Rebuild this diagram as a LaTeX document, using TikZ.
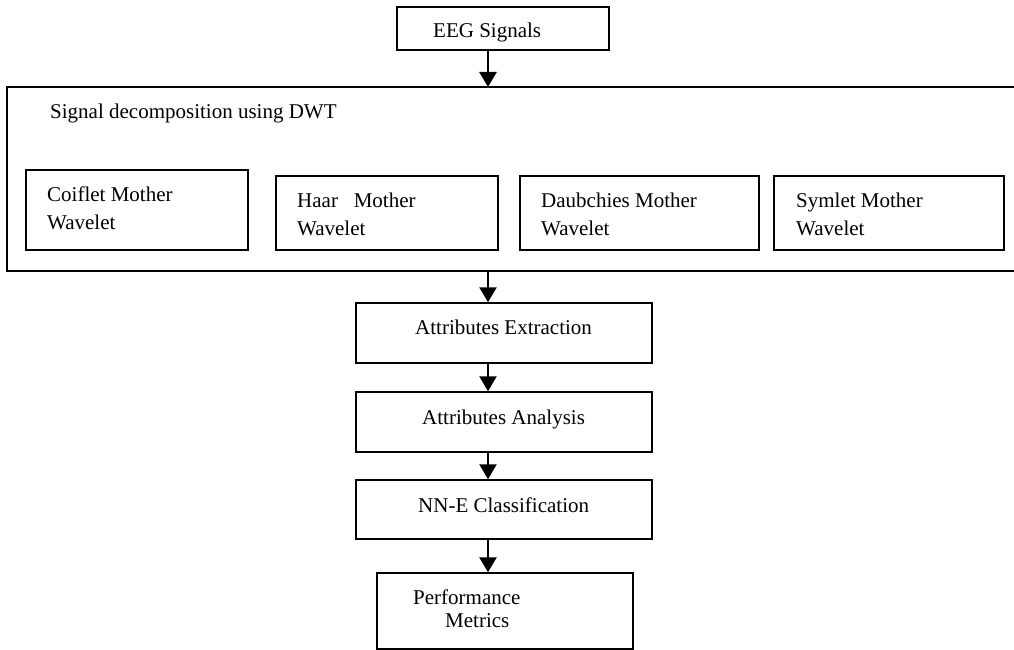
\documentclass[tikz,border=0pt]{standalone}
\usepackage{fontspec}
\setmainfont{Liberation Serif}
\usetikzlibrary{arrows.meta}
\begin{document}
\begin{tikzpicture}[x=1pt,y=-1pt,
  box/.style={draw=black,line width=1.5pt,inner sep=0pt},
  lbl/.style={anchor=base west,inner sep=0pt,font=\fontsize{21}{26}\selectfont},
  flow/.style={line width=2.6pt,-{Triangle[length=15pt,width=17pt]}}]
\useasboundingbox (0,0) rectangle (1014,650);
% boxes
\node[box,minimum width=212pt,minimum height=43pt] (eeg) at (503,28.5) {};
\draw[line width=1.5pt] (1016,87) -- (7,87) -- (7,271) -- (1016,271);
\coordinate (bigN) at (500,87);
\coordinate (bigS) at (500,271);
\node[box,minimum width=222pt,minimum height=80pt] (coif) at (137,210) {};
\node[box,minimum width=222pt,minimum height=74pt] (haar) at (387,213) {};
\node[box,minimum width=239pt,minimum height=74pt] (daub) at (639.5,213) {};
\node[box,minimum width=230pt,minimum height=74pt] (sym) at (889,213) {};
\node[box,minimum width=296pt,minimum height=60pt] (ext) at (504,333) {};
\node[box,minimum width=296pt,minimum height=60pt] (ana) at (504,422) {};
\node[box,minimum width=296pt,minimum height=59pt] (nne) at (504,509.5) {};
\node[box,minimum width=256pt,minimum height=76pt] (perf) at (505,611) {};
% labels
\node[lbl] (teeg) at (433,38) {EEG Signals};
\node[lbl] (tdwt) at (50,118) {Signal decomposition using DWT};
\node[lbl] (tc1) at (47,201) {Coiflet Mother};
\node[lbl] (tc2) at (47,229) {Wavelet};
\node[lbl] (th1) at (297,207) {Haar\ \ \ Mother};
\node[lbl] (th2) at (297,235) {Wavelet};
\node[lbl] (td1) at (541,207) {Daubchies Mother};
\node[lbl] (td2) at (541,235) {Wavelet};
\node[lbl] (ts1) at (796,207) {Symlet Mother};
\node[lbl] (ts2) at (796,235) {Wavelet};
\node[lbl] (text) at (415,334) {Attributes Extraction};
\node[lbl] (tana) at (422,424) {Attributes Analysis};
\node[lbl] (tnne) at (418,512) {NN-E Classification};
\node[lbl] (tp1) at (413,604) {Performance};
\node[lbl] (tp2) at (445,627) {Metrics};
% arrows
\coordinate (ax) at (488,0);
\draw[flow] (eeg.south -| ax) -- (bigN -| ax);
\draw[flow] (bigS -| ax) -- (ext.north -| ax);
\draw[flow] (ext.south -| ax) -- (ana.north -| ax);
\draw[flow] (ana.south -| ax) -- (nne.north -| ax);
\draw[flow] (nne.south -| ax) -- (perf.north -| ax);
\end{tikzpicture}
\end{document}
